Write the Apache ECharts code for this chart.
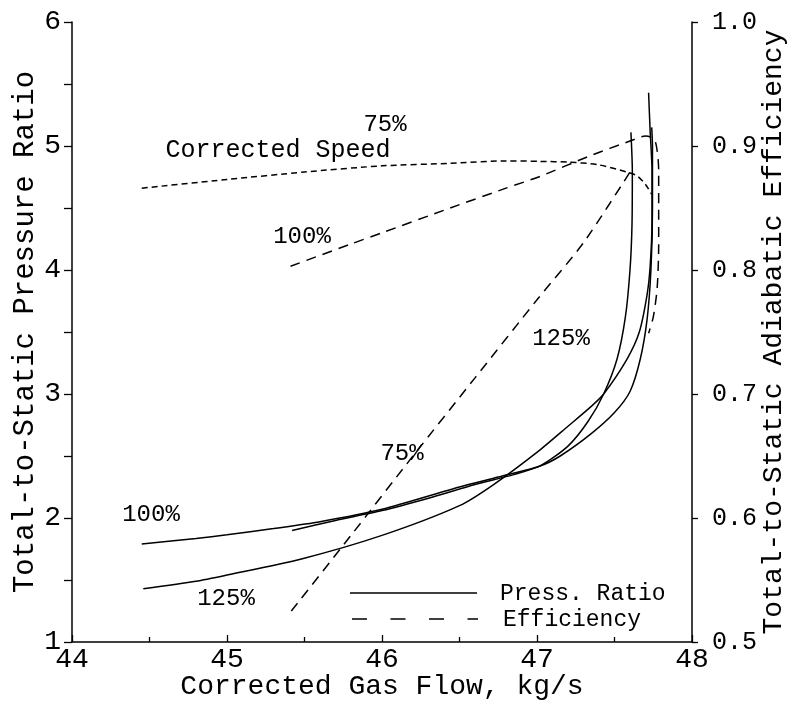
<!DOCTYPE html>
<html>
<head>
<meta charset="utf-8">
<script src="https://cdn.jsdelivr.net/npm/echarts@6/dist/echarts.min.js"></script>
<style>
html, body { margin: 0; padding: 0; background: #fff; }
#chart { width: 792px; height: 709px; }
</style>
</head>
<body>
<div id="chart"></div>
<script>
// pressure ratio lines, [flow, ratio]
const pr75 = [[45.42, 1.90], [45.7, 1.98], [46.0, 2.06], [46.3, 2.16], [46.6, 2.27], [46.85, 2.35], [47.02, 2.42],
  [47.2, 2.58], [47.33, 2.78], [47.43, 3.00], [47.516, 3.28], [47.57, 3.62], [47.60, 4.0], [47.613, 4.37], [47.615, 4.8], [47.606, 5.11]]
const pr100 = [[44.45, 1.79], [44.8, 1.835], [45.0, 1.865], [45.3, 1.915], [45.6, 1.97], [46.0, 2.07], [46.5, 2.25], [46.75, 2.33],
  [47.02, 2.42], [47.15, 2.50], [47.35, 2.68], [47.5, 2.85], [47.6, 3.02], [47.666, 3.28], [47.71, 3.6], [47.735, 4.0],
  [47.745, 4.5], [47.745, 5.0], [47.74, 5.15]]
const pr125 = [[44.46, 1.43], [44.8, 1.49], [45.0, 1.54], [45.48, 1.67], [46.0, 1.86], [46.5, 2.10], [46.72, 2.27], [47.02, 2.55],
  [47.2, 2.74], [47.35, 2.90], [47.43, 3.00], [47.58, 3.28], [47.66, 3.5], [47.71, 3.8], [47.73, 4.03], [47.742, 4.4],
  [47.742, 4.8], [47.73, 5.12], [47.72, 5.43]]

// efficiency lines, [flow, efficiency]
const eff75 = [[44.45, 0.866], [45.0, 0.873], [45.5, 0.879], [46.0, 0.884], [46.44, 0.886], [46.8, 0.888], [47.02, 0.8876],
  [47.2, 0.887], [47.39, 0.885], [47.58, 0.879], [47.645, 0.876], [47.7, 0.869], [47.74, 0.861]]
const eff100 = [[45.41, 0.803], [45.8, 0.821], [46.0, 0.830], [46.44, 0.850], [46.8, 0.866], [47.02, 0.8755], [47.34, 0.892],
  [47.6, 0.904], [47.7, 0.908], [47.76, 0.905], [47.785, 0.88], [47.785, 0.85], [47.785, 0.82], [47.775, 0.785], [47.75, 0.762], [47.72, 0.749]]
const eff125 = [[45.415, 0.525], [45.8, 0.586], [46.2, 0.650], [46.6, 0.713], [47.0, 0.776], [47.3, 0.822], [47.6, 0.879]]

const flowTicks = [44, 45, 46, 47, 48]
const ratioTicks = [1, 2, 3, 4, 5, 6]
const effTicks = [0.5, 0.6, 0.7, 0.8, 0.9, 1.0]

const mono = 'Liberation Mono'

function curve (name, data, yIdx, dash) {
  return {
    name: name,
    type: 'line',
    yAxisIndex: yIdx,
    data: data,
    smooth: 0.25,
    showSymbol: false,
    silent: true,
    lineStyle: { color: '#000', width: 1.5, type: dash || 'solid' }
  }
}

function note (text, x, y) {
  return {
    type: 'text',
    x: x,
    y: y,
    style: { text: text, fill: '#000', font: '24px ' + mono, align: 'center', verticalAlign: 'middle' }
  }
}

const chart = echarts.init(document.getElementById('chart'))

chart.setOption({
  backgroundColor: '#fff',
  animation: false,
  grid: { left: 72, right: 100, top: 22, bottom: 67, containLabel: false, outerBoundsMode: 'none' },
  xAxis: {
    type: 'value',
    min: flowTicks[0],
    max: flowTicks[flowTicks.length - 1],
    interval: 1,
    name: 'Corrected Gas Flow, kg/s',
    nameLocation: 'middle',
    nameGap: 31,
    nameMoveOverlap: false,
    nameTextStyle: { fontFamily: mono, fontSize: 28, color: '#000' },
    axisLine: { lineStyle: { color: '#000', width: 1.5 } },
    axisTick: { inside: true, length: 7, lineStyle: { color: '#000', width: 1.3 } },
    minorTick: { show: true, splitNumber: 2, length: 5, lineStyle: { color: '#000', width: 1.3 } },
    axisLabel: { fontFamily: mono, fontSize: 28, color: '#000', margin: 4 },
    splitLine: { show: false }
  },
  yAxis: [
    {
      type: 'value',
      min: ratioTicks[0],
      max: ratioTicks[ratioTicks.length - 1],
      interval: 1,
      name: 'Total-to-Static Pressure Ratio',
      nameLocation: 'middle',
      nameGap: 32,
      nameRotate: 90,
      nameMoveOverlap: false,
      nameTextStyle: { fontFamily: mono, fontSize: 29, color: '#000' },
      axisLine: { show: true, lineStyle: { color: '#000', width: 1.5 } },
      axisTick: { show: true, length: 8, lineStyle: { color: '#000', width: 1.3 } },
      minorTick: { show: true, splitNumber: 2, length: 8, lineStyle: { color: '#000', width: 1.3 } },
      axisLabel: { fontFamily: mono, fontSize: 28, color: '#000', margin: 11 },
      splitLine: { show: false }
    },
    {
      type: 'value',
      position: 'right',
      min: effTicks[0],
      max: effTicks[effTicks.length - 1],
      interval: 0.1,
      name: 'Total-to-Static Adiabatic Efficiency',
      nameLocation: 'middle',
      nameGap: 68,
      nameRotate: 90,
      nameMoveOverlap: false,
      nameTextStyle: { fontFamily: mono, fontSize: 28, color: '#000' },
      axisLine: { show: true, lineStyle: { color: '#000', width: 1.5 } },
      axisTick: { show: true, length: 6, lineStyle: { color: '#000', width: 1.3 } },
      axisLabel: { fontFamily: mono, fontSize: 25, color: '#000', margin: 20, formatter: v => v.toFixed(1) },
      splitLine: { show: false }
    }
  ],
  series: [
    curve('Press. Ratio', pr75, 0),
    curve('Press. Ratio', pr100, 0),
    curve('Press. Ratio', pr125, 0),
    curve('Efficiency', eff75, 1, [6, 4]),
    curve('Efficiency', eff100, 1, [10, 7]),
    curve('Efficiency', eff125, 1, [10, 7])
  ],
  graphic: [
    note('75%', 385, 125),
    { type: 'text', x: 278, y: 150, style: { text: 'Corrected Speed', fill: '#000', font: '25px ' + mono, align: 'center', verticalAlign: 'middle' } },
    note('100%', 302, 237),
    note('125%', 561, 339),
    note('75%', 402, 454),
    note('100%', 151, 515),
    note('125%', 226, 599),
    // legend
    { type: 'line', shape: { x1: 350, y1: 593, x2: 477, y2: 593 }, style: { stroke: '#000', lineWidth: 1.5 } },
    { type: 'line', shape: { x1: 352, y1: 619, x2: 478, y2: 619 }, style: { stroke: '#000', lineWidth: 1.5, lineDash: [15, 23.5] } },
    { type: 'text', x: 500, y: 594, style: { text: 'Press. Ratio', fill: '#000', font: '23px ' + mono, verticalAlign: 'middle' } },
    { type: 'text', x: 503, y: 620, style: { text: 'Efficiency', fill: '#000', font: '23px ' + mono, verticalAlign: 'middle' } }
  ]
})
</script>
</body>
</html>
